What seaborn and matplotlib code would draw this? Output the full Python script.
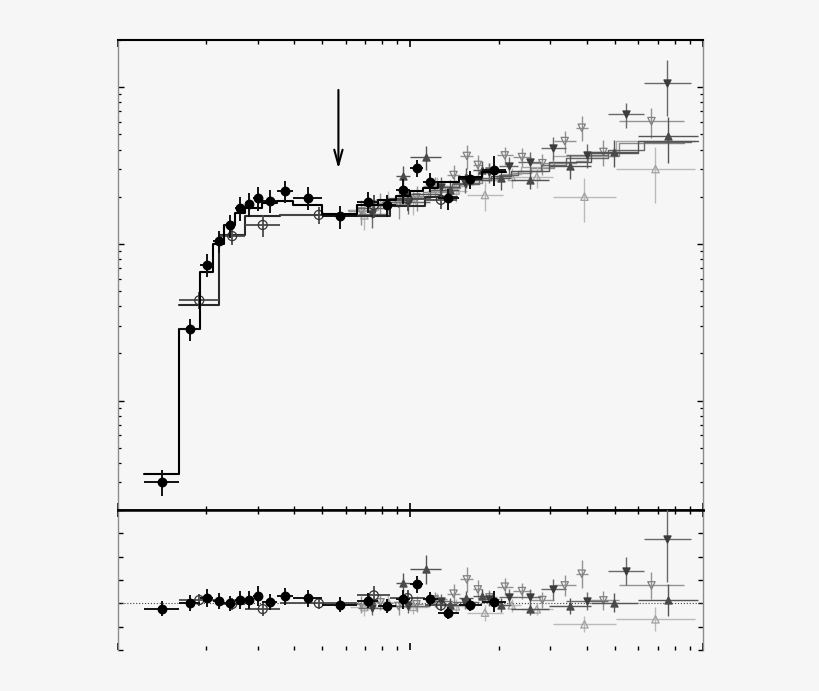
import numpy as np
import pandas as pd
import matplotlib
matplotlib.use("Agg")
import matplotlib.pyplot as plt
from matplotlib.ticker import LogLocator, NullFormatter, NullLocator, MultipleLocator
import seaborn as sns

sns.set_theme(style="ticks")
plt.rcParams['font.family'] = ['DejaVu Sans']

# ---- data (energy bin edges, flux, 1-sigma error, data/model ratio)
# filled black circles
a_edges = [1.23, 1.62, 1.91, 2.12, 2.31, 2.51, 2.71, 2.90, 3.11, 3.50, 3.98,
           5.00, 6.58, 7.77, 8.95, 10.0, 11.0, 12.4, 14.6, 17.6, 21.2]
a_flux = [0.00302, 0.0286, 0.0738, 0.1045, 0.1316, 0.1703, 0.1806, 0.1963, 0.1887, 0.2166,
          0.1963, 0.1501, 0.1860, 0.1771, 0.2208, 0.3048, 0.2482, 0.1955, 0.2583, 0.2972]
a_err = [0.00057, 0.0047, 0.0126, 0.017, 0.022, 0.030, 0.032, 0.035, 0.032, 0.035,
         0.033, 0.025, 0.029, 0.028, 0.040, 0.038, 0.034, 0.030, 0.035, 0.064]
a_ratio = [0.887, 1.006, 1.122, 1.049, 1.000, 1.079, 1.071, 1.156, 1.028, 1.150,
           1.107, 0.972, 1.058, 0.936, 1.085, 1.406, 1.085, 0.793, 0.964, 1.036]

# open circles
b_edges = [1.62, 2.22, 2.72, 3.59, 6.58, 8.54, 11.2, 14.4]
b_flux = [0.0436, 0.112, 0.132, 0.153, 0.176, 0.193, 0.191]
b_err = [0.0054, 0.0144, 0.021, 0.020, 0.029, 0.030, 0.025]
b_ratio = [1.071, 0.985, 0.878, 1.000, 1.171, 1.113, 0.957]

# filled up-triangles
c_edges = [8.95, 10.0, 12.7, 14.6, 16.3, 18.8, 22.0, 29.7, 41.3, 59.9, 96.1]
c_flux = [0.273, 0.358, 0.222, 0.267, 0.296, 0.262, 0.256, 0.314, 0.386, 0.487]
c_err = [0.040, 0.063, 0.035, 0.040, 0.040, 0.040, 0.033, 0.055, 0.075, 0.157]
c_ratio = [1.432, 1.726, 0.957, 1.107, 1.156, 0.968, 0.872, 0.942, 1.015, 1.071]

# open up-triangles
d_edges = [6.23, 7.77, 9.10, 11.5, 13.1, 15.6, 20.7, 23.8, 30.7, 50.4, 93.9]
d_flux = [0.152, 0.184, 0.184, 0.231, 0.219, 0.205, 0.267, 0.268, 0.200, 0.300]
d_err = [0.030, 0.032, 0.032, 0.035, 0.035, 0.044, 0.040, 0.040, 0.062, 0.117]
d_ratio = [0.921, 1.021, 0.925, 1.064, 0.936, 0.801, 0.957, 0.872, 0.551, 0.658]

# filled down-triangles
e_edges = [6.64, 8.28, 11.7, 13.9, 17.1, 20.0, 23.4, 27.9, 34.0, 47.3, 62.8, 91.0]
e_flux = [0.154, 0.185, 0.232, 0.246, 0.286, 0.315, 0.334, 0.411, 0.369, 0.670, 1.071]
e_err = [0.028, 0.030, 0.035, 0.035, 0.040, 0.045, 0.050, 0.070, 0.065, 0.120, 0.420]
e_ratio = [0.908, 0.942, 1.049, 1.021, 1.085, 1.143, 1.143, 1.299, 1.049, 1.690, 2.382]

# open down-triangles
f_edges = [6.13, 7.53, 8.28, 10.0, 11.0, 13.3, 14.8, 16.4, 17.6, 19.7, 22.4,
           25.8, 30.9, 36.7, 40.4, 51.6, 86.1]
f_flux = [0.161, 0.181, 0.180, 0.198, 0.233, 0.275, 0.364, 0.319, 0.290, 0.367,
          0.358, 0.327, 0.453, 0.551, 0.386, 0.607]
f_err = [0.030, 0.030, 0.035, 0.035, 0.035, 0.045, 0.064, 0.050, 0.040, 0.050,
         0.050, 0.050, 0.072, 0.100, 0.074, 0.130]
f_ratio = [0.979, 1.021, 0.942, 0.979, 1.085, 1.207, 1.513, 1.299, 1.128, 1.357,
           1.263, 1.071, 1.385, 1.635, 1.064, 1.385]

# arrow marking a feature
arrow_energy = 5.67
arrow_from = 1.0
arrow_to = 0.29


def spectrum_frame(edges, flux, err, ratio):
    edges = np.asarray(edges)
    lo, hi = edges[:-1], edges[1:]
    df = pd.DataFrame({"lo": lo, "hi": hi, "energy": np.sqrt(lo * hi),
                       "flux": flux, "err": err, "ratio": ratio})
    df["model"] = df["flux"] / df["ratio"]
    df["ratio_err"] = df["err"] / df["model"]
    return df


# drawing order: grey sets first, black sets on top
datasets = [
    (spectrum_frame(f_edges, f_flux, f_err, f_ratio),
     dict(marker="v", filled=False, mc="#808080", ec="#939393", lc="#8a8a8a", lw=1.0, elw=1.0, s=28, z=2)),
    (spectrum_frame(d_edges, d_flux, d_err, d_ratio),
     dict(marker="^", filled=False, mc="#a0a0a0", ec="#bababa", lc="#aaaaaa", lw=1.0, elw=1.0, s=28, z=2)),
    (spectrum_frame(e_edges, e_flux, e_err, e_ratio),
     dict(marker="v", filled=True, mc="#3c3c3c", ec="#6a6a6a", lc="#666666", lw=1.0, elw=1.0, s=26, z=3)),
    (spectrum_frame(c_edges, c_flux, c_err, c_ratio),
     dict(marker="^", filled=True, mc="#4a4a4a", ec="#555555", lc="#555555", lw=1.0, elw=1.0, s=26, z=3)),
    (spectrum_frame(b_edges, b_flux, b_err, b_ratio),
     dict(marker="o", filled=False, mc="#333333", ec="#4a4a4a", lc="#2a2a2a", lw=1.5, elw=1.3, s=42, z=4)),
    (spectrum_frame(a_edges, a_flux, a_err, a_ratio),
     dict(marker="o", filled=True, mc="#000000", ec="#111111", lc="#000000", lw=1.5, elw=1.4, s=38, z=5)),
]

bg = "#f6f6f6"
fig = plt.figure(figsize=(8.2, 6.91), dpi=100, facecolor=bg)
ax = fig.add_axes([0.1439, 0.2619, 0.7134, 0.6802])
ax2 = fig.add_axes([0.1439, 0.0593, 0.7134, 0.2026], sharex=ax)
for a in (ax, ax2):
    a.set_facecolor(bg)
    a.set_xscale("log")
ax.set_yscale("log")

for df, st in datasets:
    xerr = [df["energy"] - df["lo"], df["hi"] - df["energy"]]
    # model as a histogram over the bins
    ax.step(np.append(df["lo"], df["hi"].iloc[-1]), np.append(df["model"], df["model"].iloc[-1]),
            where="post", color=st["lc"], lw=st["lw"], zorder=st["z"])
    ax.errorbar(df["energy"], df["flux"], xerr=xerr, yerr=df["err"], fmt="none",
                ecolor=st["ec"], elinewidth=st["elw"], capsize=0, zorder=st["z"])
    ax2.errorbar(df["energy"], df["ratio"], xerr=xerr, yerr=df["ratio_err"], fmt="none",
                 ecolor=st["ec"], elinewidth=st["elw"], capsize=0, zorder=st["z"])
    face = st["mc"] if st["filled"] else "none"
    for a, ycol in ((ax, "flux"), (ax2, "ratio")):
        sns.scatterplot(data=df, x="energy", y=ycol, ax=a, marker=st["marker"], s=st["s"],
                        color=st["mc"], facecolor=face, edgecolor=st["mc"], linewidth=0.9,
                        legend=False, zorder=st["z"] + 0.5)

ax2.axhline(1.0, color="#444444", ls=":", lw=0.8, zorder=1)

ax.annotate("", xy=(arrow_energy, arrow_to), xytext=(arrow_energy, arrow_from),
            arrowprops=dict(arrowstyle="->,head_length=0.9,head_width=0.25", color="black", lw=1.5))

ax.set_xlim(1, 100)
ax.set_ylim(2e-3, 2)
ax2.set_ylim(0, 3)

for a in (ax, ax2):
    a.xaxis.set_major_locator(LogLocator(base=10))
    a.xaxis.set_minor_locator(LogLocator(base=10, subs=np.arange(2, 10)))
    a.xaxis.set_major_formatter(NullFormatter())
    a.xaxis.set_minor_formatter(NullFormatter())
    a.yaxis.set_major_formatter(NullFormatter())
    a.yaxis.set_minor_formatter(NullFormatter())
    a.set_xlabel("")
    a.set_ylabel("")
ax.yaxis.set_major_locator(LogLocator(base=10))
ax.yaxis.set_minor_locator(LogLocator(base=10, subs=np.arange(2, 10)))
ax2.yaxis.set_major_locator(MultipleLocator(0.5))
ax2.yaxis.set_minor_locator(NullLocator())

ax.tick_params(axis="x", which="major", direction="in", length=5, width=1.2, top=True, bottom=True, color="black")
ax.tick_params(axis="x", which="minor", direction="in", length=3, width=1.0, top=True, bottom=True, color="black")
ax.tick_params(axis="y", which="major", direction="in", length=4.3, width=1.0, left=True, right=True, color="black")
ax.tick_params(axis="y", which="minor", direction="in", length=2.4, width=0.9, left=True, right=True, color="black")
ax2.tick_params(axis="x", which="major", direction="in", length=5, width=1.2, top=True, bottom=True, color="black")
ax2.tick_params(axis="x", which="minor", direction="in", length=3, width=1.0, top=True, bottom=True, color="black")
ax2.tick_params(axis="y", which="major", direction="in", length=3.8, width=1.0, left=True, right=True, color="black")
ax.tick_params(labelbottom=False, labelleft=False)
ax2.tick_params(labelbottom=False, labelleft=False)

ax.spines["top"].set_color("black")
ax.spines["top"].set_linewidth(1.5)
ax.spines["bottom"].set_color("black")
ax.spines["bottom"].set_linewidth(1.8)
ax2.spines["top"].set_color("black")
ax2.spines["top"].set_linewidth(1.8)
ax2.spines["bottom"].set_visible(False)
for a in (ax, ax2):
    for side in ("left", "right"):
        a.spines[side].set_color("#8c8c8c")
        a.spines[side].set_linewidth(1.0)

fig.savefig("out.png", dpi=100, facecolor=bg)
